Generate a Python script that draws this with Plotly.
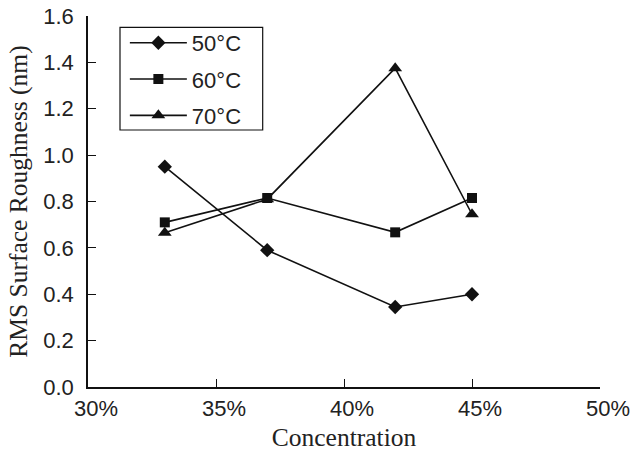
import plotly.graph_objects as go

concentration = [33, 37, 42, 45]
rough_50 = [0.95, 0.59, 0.345, 0.40]
rough_60 = [0.71, 0.815, 0.667, 0.815]
rough_70 = [0.665, 0.81, 1.375, 0.745]
series_names = ["50°C", "60°C", "70°C"]
x_ticks = [30, 35, 40, 45, 50]
y_ticks = [0.0, 0.2, 0.4, 0.6, 0.8, 1.0, 1.2, 1.4, 1.6]

ink = "#111111"
symbols = ["diamond", "square", "triangle-up"]
sizes = [11, 10, 12]

fig = go.Figure()
for name, vals, sym, sz in zip(series_names, [rough_50, rough_60, rough_70], symbols, sizes):
    fig.add_trace(go.Scatter(
        x=concentration, y=vals, name=name, mode="lines+markers",
        line=dict(color=ink, width=1.6),
        marker=dict(symbol=sym, size=sz, color=ink),
        legendgroup=name,
    ))

tickfont = dict(family="Liberation Sans, Arial, sans-serif", size=22, color="#222222")
titlefont = dict(family="Liberation Serif, Times New Roman, serif", size=25.5, color="#222222")

fig.update_layout(
    width=633, height=452,
    margin=dict(l=88, r=33, t=16, b=65),
    paper_bgcolor="white", plot_bgcolor="white",
    showlegend=True,
    legend=dict(
        x=0.072, y=0.984, xanchor="left", yanchor="top",
        borderwidth=0, bgcolor="rgba(0,0,0,0)",
        font=dict(family="Liberation Sans, Arial, sans-serif", size=22, color="#222222"),
        traceorder="grouped", tracegroupgap=4.7, itemwidth=57,
    ),
    shapes=[dict(
        type="rect", xref="paper", yref="paper",
        x0=0.0625, x1=0.3412, y0=0.6927, y1=0.9695,
        line=dict(color=ink, width=1.2), fillcolor="rgba(0,0,0,0)", layer="below",
    )],
    xaxis=dict(
        range=[30, 50], tickvals=x_ticks, ticktext=[f"{v}%" for v in x_ticks],
        showline=True, linecolor=ink, linewidth=1.6, mirror=False,
        ticks="inside", ticklen=8, tickwidth=1.4, tickcolor=ink,
        showgrid=False, zeroline=False, tickfont=tickfont, automargin=False,
        ticklabelstandoff=1, ticklabelshift=8, ticklabeloverflow="allow",
        title=dict(text="Concentration", font=titlefont, standoff=13),
    ),
    yaxis=dict(
        range=[0, 1.6], tickvals=y_ticks, ticktext=[f"{v:.1f}" for v in y_ticks],
        showline=True, linecolor=ink, linewidth=1.6, mirror=False,
        ticks="inside", ticklen=8, tickwidth=1.4, tickcolor=ink,
        showgrid=False, zeroline=False, tickfont=tickfont, automargin=False,
        ticklabelstandoff=8, ticklabeloverflow="allow",
        title=dict(text="RMS Surface Roughness (nm)", font=titlefont, standoff=8),
    ),
)

# remove the default 8px body margin so the 633x452 figure fills the window exactly
fig.write_html(
    "out.html",
    config={"displayModeBar": False},
    post_script="document.body.style.margin='0';document.body.style.overflow='hidden';",
)
